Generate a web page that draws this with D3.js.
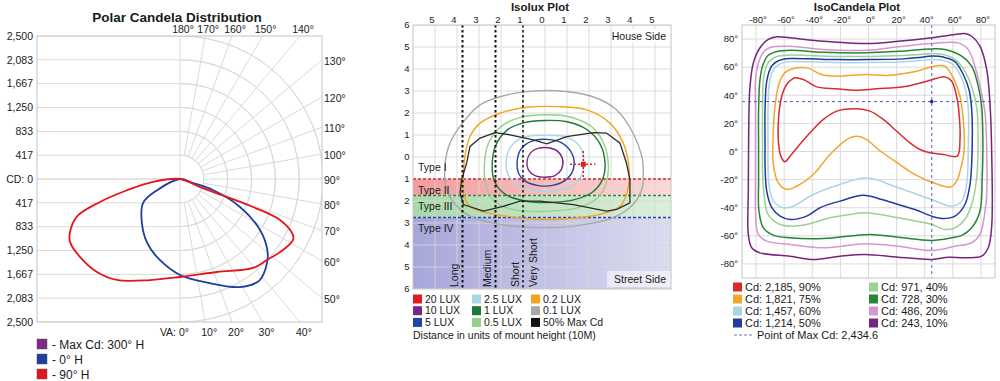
<!DOCTYPE html>
<html><head><meta charset="utf-8">
<script src="https://cdn.jsdelivr.net/npm/d3@7"></script>
<style>
body{margin:0;background:#fff;}
svg{display:block;font-family:"Liberation Sans",Arial,sans-serif;}
</style></head><body>
<svg id="c" width="1000" height="381"></svg>
<script>
// ---------------- DATA ----------------
// Polar candela distribution
const cdTicks = [2500, 2083, 1667, 1250, 833, 417];
const cdTickLabels = ["2,500", "2,083", "1,667", "1,250", "833", "417"];
const vaAngles = [0,10,20,30,40,50,60,70,80,90,100,110,120,130,140,150,160,170,180];
const polarSeries = ["- Max Cd: 300° H", "- 0° H", "- 90° H"];
const polarColors = ["#7b2a86", "#1f3f9f", "#e3161d"];
// [vertical angle (negative = opposite half-plane), candela]
const curve0H = [[180,0],[-64,446],[-57,771],[-41,1016],[-27,1259],[-14,1459],[0,1678],[15,1878],[29,2160],[38,2253],[46,2115],[51,1963],[57.5,1659],[65,1158],[71.5,608],[73,238]];
const curve90H = [[180,0],[-84,475],[-78,946],[-74,1455],[-70,1919],[-64,2142],[-60,2216],[-52,2217],[-42,2180],[-32,2081],[-16.5,1842],[0,1713],[21.7,1750],[39.4,2012],[47,2078],[55.4,2187],[61.6,2245],[63.6,2205],[67.7,1890],[69,1367],[69,880],[68,377]];

// Isolux plot (units of mounting height; + = house side)
const luxXTicks = [-5,-4,-3,-2,-1,0,1,2,3,4,5];
const luxYTicks = [6,5,4,3,2,1,0,-1,-2,-3,-4,-5,-6];
const bandNames = ["Type II", "Type III", "Type IV"];
const bandEdges = [-1, -1.75, -2.75, -6];
const bandColors = [["#f39c9e","#fbdada"],["#a9d9aa","#dcefdc"],["#a7a6da","#dcdcf1"]];
const bandLineColors = ["#d9262b","#2c8a3b","#2f3fae"];
const rangeLines = [-3.75, -2.25, -1.0];
const rangeNames = ["Long", "Medium", "Short", "Very Short"];
const luxLevels = ["20 LUX","10 LUX","5 LUX","2.5 LUX","1 LUX","0.5 LUX","0.2 LUX","0.1 LUX","50% Max Cd"];
const luxColors = ["#e01b23","#7b267f","#1f46a0","#a6d8e6","#1d7a35","#95d18b","#f5a31d","#a8a8a8","#111111"];
const lux10 = [[-0.82,-0.2],[-0.65,0.2],[-0.3,0.4],[0.15,0.42],[0.55,0.28],[0.8,-0.1],[0.75,-0.55],[0.45,-0.85],[0,-0.92],[-0.45,-0.85],[-0.75,-0.6]];
const lux5 = [[-1.27,-0.25],[-1.1,0.35],[-0.6,0.72],[0.1,0.8],[0.8,0.62],[1.25,0.1],[1.3,-0.5],[1.0,-1.0],[0.4,-1.28],[-0.3,-1.3],[-0.9,-1.1],[-1.2,-0.75]];
const lux25 = [[-1.77,-0.3],[-1.6,0.4],[-1.1,0.85],[-0.4,0.98],[0.3,0.98],[1.0,0.9],[1.6,0.45],[1.77,-0.3],[1.6,-0.95],[1.1,-1.38],[0.3,-1.55],[-0.5,-1.52],[-1.2,-1.3],[-1.65,-0.85]];
const lux1 = [[-2.4,-0.35],[-2.25,0.5],[-1.75,1.2],[-1.0,1.55],[0,1.66],[1.0,1.6],[1.9,1.25],[2.5,0.6],[2.73,-0.3],[2.6,-1.05],[2.15,-1.6],[1.3,-1.95],[0.2,-2.07],[-0.9,-2.0],[-1.8,-1.7],[-2.3,-1.1]];
const lux05 = [[-2.75,-0.3],[-2.6,0.55],[-2.1,1.3],[-1.2,1.78],[0,1.92],[1.15,1.82],[2.15,1.35],[2.7,0.55],[2.88,-0.4],[2.78,-1.2],[2.4,-1.85],[1.5,-2.3],[0,-2.47],[-1.5,-2.38],[-2.35,-1.98],[-2.7,-1.2]];
const lux02 = [[-3.71,-0.88],[-3.64,0.03],[-3.41,0.93],[-2.95,1.54],[-2.05,1.99],[-0.83,2.26],[0.53,2.29],[1.9,2.14],[2.95,1.54],[3.56,0.63],[3.79,-0.27],[3.83,-1.03],[3.7,-1.71],[3.41,-2.24],[2.5,-2.61],[0.99,-2.81],[-0.23,-2.84],[-1.74,-2.69],[-2.65,-2.53],[-3.41,-2.24],[-3.71,-1.63]];
const lux01 = [[-4.55,-0.42],[-4.32,0.63],[-3.7,1.61],[-2.95,2.37],[-2.05,2.74],[-0.83,2.97],[0.53,3.01],[2.18,2.74],[3.26,2.14],[4.0,1.09],[4.4,0.03],[4.47,-0.72],[4.4,-1.48],[4.0,-2.16],[3.1,-2.76],[1.29,-3.14],[-0.23,-3.21],[-2.05,-3.06],[-3.26,-2.76],[-4.0,-2.24],[-4.47,-1.48]];
const luxHalfMax = [[-3.56,-0.27],[-3.41,0.48],[-2.95,0.86],[-2.27,1.11],[-1.59,1.01],[-0.53,0.78],[0.08,0.6],[0.99,0.93],[2.2,1.11],[2.8,1.09],[3.41,0.63],[3.7,-0.27],[3.86,-1.03],[3.86,-2.08],[3.26,-2.38],[2.8,-2.46],[1.29,-2.16],[-0.23,-2.01],[-1.14,-2.01],[-1.9,-2.24],[-2.8,-2.46],[-3.71,-2.16],[-3.86,-1.63],[-3.79,-1.03]];
const luxMaxPoint = [1.74, -0.33];

// IsoCandela plot (degrees)
const isoTicks = [-80,-60,-40,-20,0,20,40,60,80];
const isoLabels = ["Cd: 2,185, 90%","Cd: 1,821, 75%","Cd: 1,457, 60%","Cd: 1,214, 50%","Cd: 971, 40%","Cd: 728, 30%","Cd: 486, 20%","Cd: 243, 10%"];
const isoColors = ["#d92b2e","#f2a62c","#a9d6e5","#24399e","#9bd293","#258636","#d895cf","#77237f"];
const iso90 = [[-52.3,52.4],[-46.4,51.2],[-36.8,46],[-22.6,44.6],[-8.4,43.6],[5.8,44.6],[24.8,46],[39,49.3],[48.5,52.1],[54.4,53.1],[59.2,50],[62.7,39.3],[64.6,25.1],[65.1,8.5],[63.2,-3.3],[53.2,-2.1],[43.7,-0.9],[36.6,1.4],[29.5,6.2],[20.1,14.4],[10.5,22.8],[1.1,28.7],[-8.4,30.4],[-22.6,28.7],[-32.1,22.8],[-41.6,13.3],[-49.9,3.8],[-55.8,-3.3],[-59.4,-7.3],[-62.4,-3.3],[-64.2,8.5],[-63.9,25.1],[-61.7,39.3],[-58.2,47.7],[-53.5,52]];
const iso75 = [[-55.8,58.3],[-44,59.5],[-33.3,54.8],[-22.6,53.6],[-1.3,54.8],[12.9,54.1],[34.3,57.1],[46.1,60.7],[50.9,61.2],[54.4,60.7],[60.3,52.4],[65.1,39.3],[67.4,22.8],[68.1,1.4],[66.3,-9.2],[62.7,-21.1],[58,-25.4],[49.6,-23.5],[33.1,-16.4],[18.8,-6.9],[7,1.4],[-1.3,8.5],[-8.4,10.9],[-15.5,8.5],[-27.4,-2.1],[-39.3,-16.4],[-51.1,-24.7],[-58.2,-27],[-64.2,-22.3],[-67.7,-9.2],[-67.7,15.6],[-66.5,32.2],[-64.2,46.4],[-60.6,54.8]];
const iso60 = [[-71.5,5],[-71.5,29.9],[-70.1,51.2],[-66.5,59.7],[-61.5,62.9],[-54.4,64],[-41.6,63.8],[-22.6,63.3],[1.1,63.3],[24.8,63.8],[36.6,64.7],[45,65.4],[53.2,64.7],[60.1,61.9],[65.8,53.3],[69.3,42.7],[71.1,28.4],[71,5],[69.8,-23.5],[66.3,-35.3],[59.2,-38.9],[45,-34.1],[21.2,-25.8],[-1.3,-18.7],[-20.3,-23.5],[-39.3,-30.6],[-53.5,-38.9],[-60.6,-40],[-67.7,-35.3],[-70.8,-23.5],[-71.5,-9.2]];
const iso50 = [[-73.6,5],[-73.6,29.9],[-72.2,51.2],[-68.6,61.2],[-63.7,64.7],[-55.8,66.1],[-41.6,65.9],[-22.6,65.4],[1.1,65.4],[24.8,65.9],[36.6,66.9],[45,67.9],[53.2,67.2],[61.5,64],[67.4,54.8],[71.5,44.1],[73.4,29.9],[73.8,5],[72.2,-23.5],[68.6,-37.7],[61.5,-46],[53.2,-47.7],[45,-46],[33.1,-41.3],[21.2,-37.7],[9.4,-34.1],[-3.7,-31.1],[-20.3,-35.3],[-34.5,-40],[-44,-46],[-55.8,-48.4],[-62.9,-46],[-68.8,-40],[-72.4,-28.2],[-73.6,-9.2]];
const iso40 = [[-75.4,5],[-75.4,29.9],[-74.3,54.8],[-70.8,64],[-65.1,67.6],[-55.8,68.6],[-41.6,68.3],[-22.6,67.6],[1.1,67.6],[24.8,68.3],[36.6,69],[45,69.7],[53,69],[60.8,66.1],[67.9,58.3],[73.6,45.5],[77.2,29.9],[77.9,5],[77,-18.7],[73.4,-37.7],[68.6,-48.4],[61.5,-54.3],[54.4,-55.5],[45,-51.9],[21.2,-47.2],[-2.5,-43.6],[-13.2,-44.8],[-27.4,-47.2],[-44,-51.9],[-55.8,-53.1],[-64.4,-51.2],[-71.5,-44.8],[-74.3,-30.6],[-75.4,-12.8]];
const iso30 = [[-78.2,5],[-78.2,29.9],[-77.2,51.2],[-75,61.9],[-71.5,68.3],[-65.1,71.1],[-55.8,72],[-32.1,70.6],[-1.3,70.2],[21.2,71.3],[45,73],[54.4,72.5],[66.3,67.8],[73.4,60.7],[78.1,46.4],[80.5,32.2],[81.4,5],[80.9,-18.7],[79.3,-42.5],[73.4,-54.3],[66.5,-59.7],[59.2,-61.4],[45,-63.3],[21.2,-61],[1.1,-59],[-32.1,-61.9],[-55.8,-61.4],[-67.7,-59.5],[-74.8,-54.3],[-77.9,-42.7],[-78.2,-19.9]];
const iso20 = [[-80.4,5],[-80.4,29.9],[-80.4,51.2],[-78.6,61.9],[-75,70.4],[-70.1,74],[-55.8,74.9],[-32.1,72.5],[-1.3,72],[21.2,74.5],[45,76.8],[63.9,77.3],[71,72.5],[75.7,60.7],[79.3,46.4],[82.9,27.5],[84.1,1.4],[84.1,-30.6],[82.9,-42.5],[79.3,-59],[73.4,-64.9],[61.5,-67.4],[45,-70.4],[21.2,-67.4],[-2.5,-65.6],[-32.1,-68.5],[-55.8,-66.1],[-72.4,-63.8],[-78.4,-59],[-80.4,-42.7],[-80.4,-19.9]];
const iso10 = [[-85.3,5],[-85,29.9],[-84.3,46.4],[-81.9,63.1],[-77.2,73.8],[-71.3,79.7],[-65.3,81.6],[-55.8,80.9],[-32.1,78.4],[-1.3,76.8],[21.2,78.4],[45,80.9],[61.5,83.2],[68.6,83.9],[73.4,82],[79.3,74.9],[84.1,58.3],[86.4,34.6],[87.6,1.4],[87.6,-54.1],[85.2,-68.5],[80.5,-74.5],[68.6,-75.6],[56.8,-75.2],[45,-76.8],[21.2,-75.2],[-2.5,-73.3],[-20.3,-74.5],[-39.3,-76.8],[-55.8,-74.5],[-77.2,-72.1],[-83.1,-68.5],[-85.5,-59],[-85.5,-27]];
const isoMaxPoint = [45, 35.5];
const isoMaxLabel = "Point of Max Cd: 2,434.6";

// ---------------- DRAW ----------------
const svg = d3.select("#c");
const defs = svg.append("defs");
const GRID = "#dadada", BORDER = "#c4c4c4", TXT = "#1a1a1a";

// ===== Polar =====
const P = {x0:37, x1:322, y0:36, y1:322, cx:180, cy:179};
const rS = d3.scaleLinear().domain([0,2500]).range([0,143]);
const toXY = d => [P.cx + rS(d[1]) * Math.sin(d[0]*Math.PI/180), P.cy + rS(d[1]) * Math.cos(d[0]*Math.PI/180)];
defs.append("clipPath").attr("id","clipP").append("rect").attr("x",P.x0).attr("y",P.y0).attr("width",P.x1-P.x0).attr("height",P.y1-P.y0);
const gP = svg.append("g");
gP.append("text").attr("x",177).attr("y",22).attr("text-anchor","middle").attr("font-weight","bold").attr("font-size",13.5).attr("fill",TXT).text("Polar Candela Distribution");
const gPg = gP.append("g").attr("clip-path","url(#clipP)");
[0].concat(cdTicks).forEach(v => [-1,1].forEach(s => {
  gPg.append("line").attr("x1",P.x0).attr("x2",P.cx).attr("y1",P.cy+s*rS(v)).attr("y2",P.cy+s*rS(v)).attr("stroke",GRID);
}));
cdTicks.forEach(v => {
  gPg.append("path").attr("transform",`translate(${P.cx},${P.cy})`)
    .attr("d", d3.arc()({innerRadius:rS(v), outerRadius:rS(v), startAngle:0, endAngle:Math.PI}))
    .attr("fill","none").attr("stroke",GRID);
});
vaAngles.filter(a => a>0 && a<180).forEach(a => {
  const p1 = toXY([a,417]), p2 = toXY([a,5000]);
  gPg.append("line").attr("x1",p1[0]).attr("y1",p1[1]).attr("x2",p2[0]).attr("y2",p2[1]).attr("stroke",GRID);
});
gPg.append("line").attr("x1",P.cx).attr("x2",P.cx).attr("y1",P.y0).attr("y2",P.y1).attr("stroke",GRID);
gP.append("rect").attr("x",P.x0).attr("y",P.y0).attr("width",P.x1-P.x0).attr("height",P.y1-P.y0).attr("fill","none").attr("stroke",BORDER);
const cdL = gP.append("g").attr("font-size",10.5).attr("fill",TXT).attr("text-anchor","end");
cdTicks.forEach((v,i) => [-1,1].forEach(s => {
  cdL.append("text").attr("x",33).attr("y",P.cy+s*rS(v)).attr("dy","0.35em").text(cdTickLabels[i]);
}));
cdL.append("text").attr("x",33).attr("y",P.cy).attr("dy","0.35em").text("CD: 0");
const aL = gP.append("g").attr("font-size",10.5).attr("fill",TXT);
vaAngles.forEach(a => {
  const s = Math.sin(a*Math.PI/180), c = Math.cos(a*Math.PI/180);
  const ts = [];
  if (s > 1e-6) ts.push(["r",(P.x1-P.cx)/s]);
  if (c < -1e-6) ts.push(["t",(P.cy-P.y0)/(-c)]);
  if (c > 1e-6) ts.push(["b",(P.y1-P.cy)/c]);
  ts.sort((p,q)=>p[1]-q[1]);
  const [side,t] = ts[0];
  const x = P.cx + s*t, y = P.cy + c*t;
  if (a === 0) aL.append("text").attr("x",189).attr("y",336).attr("text-anchor","end").text("VA: 0°");
  else if (side === "b") aL.append("text").attr("x",x+4).attr("y",336).attr("text-anchor","middle").text(a+"°");
  else if (side === "t") aL.append("text").attr("x",x+3).attr("y",33).attr("text-anchor","middle").text(a+"°");
  else aL.append("text").attr("x",P.x1+2).attr("y",y+1).attr("dy","0.35em").text(a+"°");
});
const polarLine = d3.line().x(d=>toXY(d)[0]).y(d=>toXY(d)[1]).curve(d3.curveCatmullRomClosed.alpha(0.5));
gP.append("path").attr("d",polarLine(curve0H)).attr("fill","none").attr("stroke",polarColors[1]).attr("stroke-width",1.8);
gP.append("path").attr("d",polarLine(curve90H)).attr("fill","none").attr("stroke",polarColors[2]).attr("stroke-width",1.8);
polarSeries.forEach((n,i) => {
  const y = 344 + i*15;
  gP.append("rect").attr("x",37).attr("y",y-5).attr("width",10).attr("height",10).attr("fill",polarColors[i]).attr("stroke","#555").attr("stroke-width",0.5);
  gP.append("text").attr("x",52).attr("y",y).attr("dy","0.38em").attr("font-size",12).attr("fill",TXT).text(n);
});

// ===== Isolux =====
const L = {x0:413, x1:671, y0:25, y1:289};
const xL = d3.scaleLinear().domain([-6, 5.7273]).range([L.x0, L.x1]);
const yL = d3.scaleLinear().domain([6, -6]).range([L.y0, L.y1]);
defs.append("clipPath").attr("id","clipL").append("rect").attr("x",L.x0).attr("y",L.y0).attr("width",L.x1-L.x0).attr("height",L.y1-L.y0);
const gL = svg.append("g");
gL.append("text").attr("x",540).attr("y",10.5).attr("text-anchor","middle").attr("font-weight","bold").attr("font-size",11.5).attr("fill",TXT).text("Isolux Plot");
const gLc = gL.append("g").attr("clip-path","url(#clipL)");
bandNames.forEach((n,i) => {
  const gid = "bg"+i;
  const lg = defs.append("linearGradient").attr("id",gid).attr("x1","0").attr("x2","1").attr("y1","0").attr("y2","0");
  lg.append("stop").attr("offset","0").attr("stop-color",bandColors[i][0]);
  lg.append("stop").attr("offset","1").attr("stop-color",bandColors[i][1]);
  gLc.append("rect").attr("x",L.x0).attr("width",L.x1-L.x0).attr("y",yL(bandEdges[i])).attr("height",yL(bandEdges[i+1])-yL(bandEdges[i])).attr("fill",`url(#${gid})`);
});
luxXTicks.forEach(u => gLc.append("line").attr("x1",xL(u)).attr("x2",xL(u)).attr("y1",L.y0).attr("y2",L.y1).attr("stroke","#d6d6d6").attr("stroke-opacity",0.85));
luxYTicks.forEach(v => gLc.append("line").attr("y1",yL(v)).attr("y2",yL(v)).attr("x1",L.x0).attr("x2",L.x1).attr("stroke","#d6d6d6").attr("stroke-opacity",0.85));
bandNames.forEach((n,i) => {
  gLc.append("line").attr("x1",L.x0).attr("x2",L.x1).attr("y1",yL(bandEdges[i])).attr("y2",yL(bandEdges[i])).attr("stroke",bandLineColors[i]).attr("stroke-width",1.5).attr("stroke-dasharray","3,2");
});
const luxLine = d3.line().x(d=>xL(d[0])).y(d=>yL(d[1])).curve(d3.curveCatmullRomClosed.alpha(0.5));
const luxCurves = [[lux01,7],[lux02,6],[lux05,5],[lux1,4],[lux25,3],[lux5,2],[lux10,1]];
luxCurves.forEach(([d,ci]) => gLc.append("path").attr("d",luxLine(d)).attr("fill","none").attr("stroke",luxColors[ci]).attr("stroke-width",1.4));
gLc.append("path").attr("d",d3.line().x(d=>xL(d[0])).y(d=>yL(d[1])).curve(d3.curveLinearClosed)(luxHalfMax)).attr("fill","none").attr("stroke","#2a2a2a").attr("stroke-width",1.3);
rangeLines.forEach((u,i) => gLc.append("line").attr("x1",xL(u)).attr("x2",xL(u)).attr("y1",L.y0).attr("y2",L.y1).attr("stroke","#111").attr("stroke-width",i<2?2:1.5).attr("stroke-dasharray","2.5,2.5"));
const [mu,mv] = luxMaxPoint;
gLc.append("line").attr("x1",xL(mu-0.6)).attr("x2",xL(mu+0.55)).attr("y1",yL(mv)).attr("y2",yL(mv)).attr("stroke",luxColors[0]).attr("stroke-width",1.5).attr("stroke-dasharray","2,2");
gLc.append("line").attr("x1",xL(mu)).attr("x2",xL(mu)).attr("y1",yL(mv+0.6)).attr("y2",yL(mv-0.6)).attr("stroke",luxColors[0]).attr("stroke-width",1.5).attr("stroke-dasharray","2,2");
gLc.append("rect").attr("x",xL(mu)-2.5).attr("y",yL(mv)-2.5).attr("width",5).attr("height",5).attr("fill",luxColors[0]);
// boxes behind side labels
gL.append("rect").attr("x",612).attr("y",29).attr("width",57).attr("height",14).attr("fill","#fff").attr("fill-opacity",0.85);
gL.append("rect").attr("x",607).attr("y",271).attr("width",64).attr("height",16).attr("fill","#fff").attr("fill-opacity",0.55);
const tl = gL.append("g").attr("font-size",10.5).attr("fill",TXT);
tl.append("text").attr("x",418).attr("y",yL(-0.45)).attr("dy","0.35em").text("Type I");
bandNames.forEach((n,i) => tl.append("text").attr("x",418).attr("y",yL(bandEdges[i])+11).attr("dy","0.35em").text(n));
const rangeX = [xL(rangeLines[0])-4, xL(rangeLines[1])-4, xL(rangeLines[2])-4, xL(rangeLines[2])+14];
rangeNames.forEach((n,i) => tl.append("text").attr("transform",`translate(${rangeX[i]},${L.y1-2}) rotate(-90)`).text(n));
tl.append("text").attr("x",666).attr("y",36).attr("dy","0.35em").attr("text-anchor","end").text("House Side");
tl.append("text").attr("x",666).attr("y",279).attr("dy","0.35em").attr("text-anchor","end").text("Street Side");
gL.append("rect").attr("x",L.x0).attr("y",L.y0).attr("width",L.x1-L.x0).attr("height",L.y1-L.y0).attr("fill","none").attr("stroke",BORDER);
const al = gL.append("g").attr("font-size",9.5).attr("fill",TXT).attr("text-anchor","middle");
luxXTicks.forEach(u => al.append("text").attr("x",xL(u)-3).attr("y",22.5).text(Math.abs(u)));
luxYTicks.forEach(v => al.append("text").attr("x",407).attr("y",yL(v)).attr("dy","0.35em").text(Math.abs(v)));
luxLevels.forEach((n,i) => {
  const col = Math.floor(i/3), row = i%3;
  const x = 413 + col*59, y = 299 + row*11.7;
  gL.append("rect").attr("x",x).attr("y",y-4.5).attr("width",9).attr("height",9).attr("fill",luxColors[i]);
  gL.append("text").attr("x",x+12).attr("y",y).attr("dy","0.36em").attr("font-size",10.5).attr("fill",TXT).text(n);
});
gL.append("text").attr("x",413).attr("y",335).attr("dy","0.36em").attr("font-size",10.5).attr("fill",TXT).text("Distance in units of mount height (10M)");

// ===== IsoCandela =====
const C = {x0:742, x1:995, y0:25, y1:278};
const xC = d3.scaleLinear().domain([-90,90]).range([C.x0, C.x1]);
const yC = d3.scaleLinear().domain([-90,90]).range([C.y1, C.y0]);
defs.append("clipPath").attr("id","clipC").append("rect").attr("x",C.x0).attr("y",C.y0).attr("width",C.x1-C.x0).attr("height",C.y1-C.y0);
const gC = svg.append("g");
gC.append("text").attr("x",857).attr("y",10.5).attr("text-anchor","middle").attr("font-weight","bold").attr("font-size",11.5).attr("fill",TXT).text("IsoCandela Plot");
const gCc = gC.append("g").attr("clip-path","url(#clipC)");
isoTicks.forEach(t => {
  gCc.append("line").attr("x1",xC(t)).attr("x2",xC(t)).attr("y1",C.y0).attr("y2",C.y1).attr("stroke",GRID);
  gCc.append("line").attr("y1",yC(t)).attr("y2",yC(t)).attr("x1",C.x0).attr("x2",C.x1).attr("stroke",GRID);
});
const isoLine = d3.line().x(d=>xC(d[0])).y(d=>yC(d[1])).curve(d3.curveCatmullRomClosed.alpha(0.5));
const isoCurves = [iso90, iso75, iso60, iso50, iso40, iso30, iso20, iso10];
isoCurves.forEach((d,i) => gCc.append("path").attr("d",isoLine(d)).attr("fill","none").attr("stroke",isoColors[i]).attr("stroke-width",1.5));
gCc.append("line").attr("x1",xC(isoMaxPoint[0])).attr("x2",xC(isoMaxPoint[0])).attr("y1",C.y0).attr("y2",C.y1).attr("stroke","#4a5ac4").attr("stroke-dasharray","3,3");
gCc.append("line").attr("y1",yC(isoMaxPoint[1])).attr("y2",yC(isoMaxPoint[1])).attr("x1",C.x0).attr("x2",C.x1).attr("stroke","#4a5ac4").attr("stroke-dasharray","3,3");
gCc.append("rect").attr("x",xC(isoMaxPoint[0])-1.5).attr("y",yC(isoMaxPoint[1])-1.5).attr("width",3).attr("height",3).attr("fill","#1a237e");
gC.append("rect").attr("x",C.x0).attr("y",C.y0).attr("width",C.x1-C.x0).attr("height",C.y1-C.y0).attr("fill","none").attr("stroke",BORDER);
const cl = gC.append("g").attr("font-size",9.5).attr("fill",TXT);
isoTicks.forEach(t => {
  cl.append("text").attr("x",xC(t)+2).attr("y",22.5).attr("text-anchor","middle").text(t+"°");
  cl.append("text").attr("x",738).attr("y",yC(t)).attr("dy","0.35em").attr("text-anchor","end").text(t+"°");
});
isoLabels.forEach((n,i) => {
  const col = Math.floor(i/4), row = i%4;
  const x = 733 + col*136, y = 287 + row*12;
  gC.append("rect").attr("x",x).attr("y",y-4.5).attr("width",9).attr("height",9).attr("fill",isoColors[i]);
  gC.append("text").attr("x",x+12).attr("y",y).attr("dy","0.36em").attr("font-size",11).attr("fill",TXT).text(n);
});
gC.append("line").attr("x1",734).attr("x2",753).attr("y1",335).attr("y2",335).attr("stroke","#6a78c8").attr("stroke-dasharray","3,2");
gC.append("text").attr("x",757).attr("y",335).attr("dy","0.36em").attr("font-size",11).attr("fill",TXT).text(isoMaxLabel);
</script></body></html>
